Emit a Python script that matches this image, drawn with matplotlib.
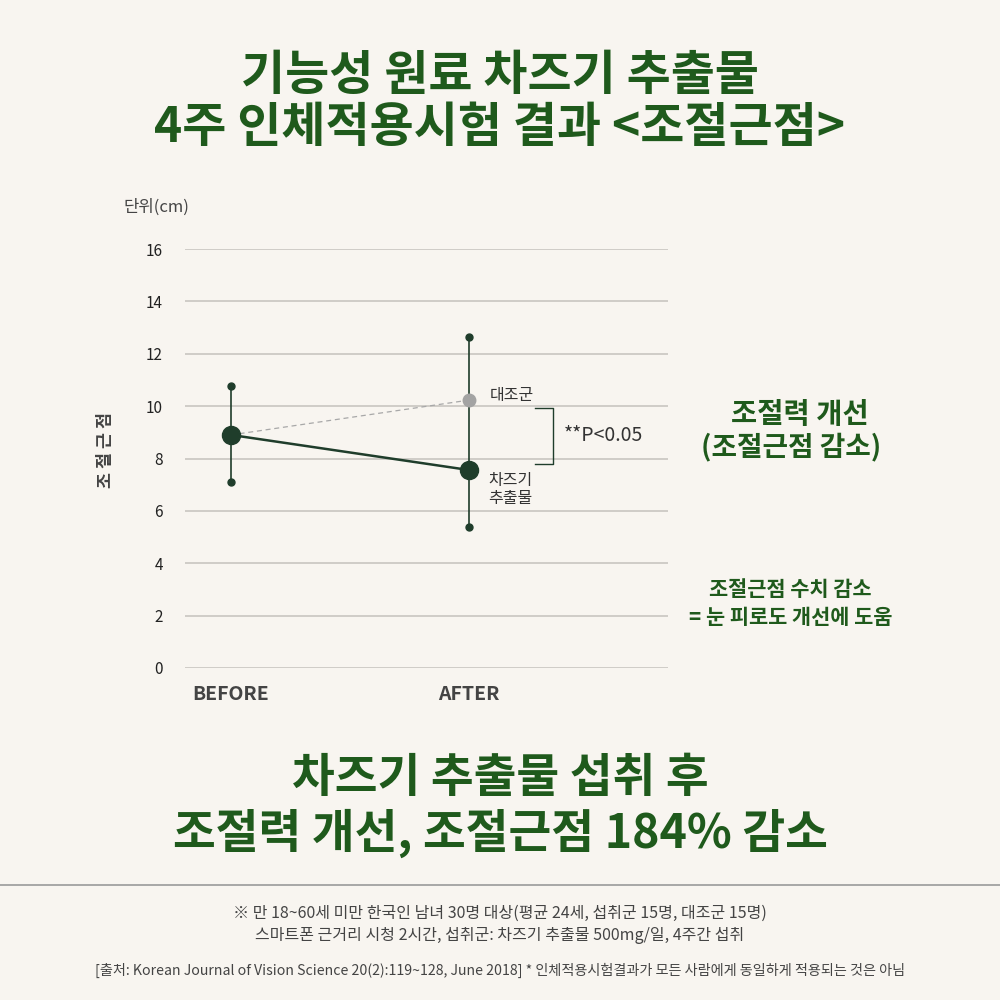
import matplotlib.pyplot as plt
import numpy as np

plt.rcParams['font.family'] = ['Noto Sans CJK KR', 'DejaVu Sans']

# data
groups = ['BEFORE', 'AFTER']
treat_mean = [8.9, 7.56]
treat_err_hi = [10.77, 12.64]
treat_err_lo = [7.10, 5.38]
control_mean = [8.9, 10.23]
yticks = [0, 2, 4, 6, 8, 10, 12, 14, 16]

BG = '#f8f5f0'
DARK = '#1f3d2b'
GREEN = '#1f5a1c'
GRAY_PT = '#a3a3a3'

fig = plt.figure(figsize=(10, 10), dpi=100, facecolor=BG)
ax = fig.add_axes([0.185, 0.332, 0.483, 0.419])
ax.set_facecolor(BG)

x = np.arange(len(groups))

# error bars
for xi, lo, hi in zip(x, treat_err_lo, treat_err_hi):
    ax.plot([xi, xi], [lo, hi], color=DARK, lw=1.2, zorder=3)
    ax.plot([xi, xi], [lo, hi], 'o', color=DARK, ms=5, zorder=4)

# control
ax.plot(x, control_mean, color='#a8a8a8', lw=0.9, ls=(0, (4, 3)), zorder=2)
ax.plot(x[1], control_mean[1], 'o', color=GRAY_PT, ms=9, zorder=5)

# treatment
ax.plot(x, treat_mean, color=DARK, lw=1.8, zorder=4)
ax.plot(x, treat_mean, 'o', color=DARK, ms=13, zorder=6)

ax.set_xlim(-0.193, 1.836)
ax.set_ylim(0, 16)
ax.set_yticks(yticks)
ax.set_yticklabels([str(t) for t in yticks], fontsize=11, color='#222222')
ax.grid(axis='y', color='#c4c2bd', lw=1.1)
ax.set_axisbelow(True)
ax.tick_params(axis='y', length=0, pad=16)
ax.set_xticks(x)
ax.set_xticklabels(groups, fontsize=14, fontweight='bold', color='#444444')
ax.tick_params(axis='x', length=0, pad=12)
for s in ax.spines.values():
    s.set_visible(False)

ax.set_ylabel('조 절 근 점', fontsize=12.5, fontweight='bold', color='#444444')
ax.yaxis.set_label_coords(-0.145, 0.52)
ax.text(-0.45, 17.6, '단위(cm)', fontsize=12, color='#444444', ha='left', va='center')

# series labels
ax.text(1.085, 10.4, '대조군', fontsize=11.5, color='#333333', ha='left', va='center')
ax.text(1.08, 7.5, '차즈기\n추출물', fontsize=11.5, color='#333333', ha='left', va='top',
        linespacing=1.1)

# significance bracket
bx0, bx1, by0, by1 = 1.277, 1.353, 7.79, 9.93
ax.plot([bx0, bx1, bx1, bx0], [by1, by1, by0, by0], color=DARK, lw=1.0, clip_on=False)
ax.text(1.40, 8.86, '**P<0.05', fontsize=14, color='#333333', ha='left', va='center')

# titles
fig.text(0.5, 0.925, '기능성 원료 차즈기 추출물', fontsize=34.5, fontweight='black',
         color=GREEN, ha='center', va='center')
fig.text(0.5, 0.872, '4주 인체적용시험 결과 <조절근점>', fontsize=34.5, fontweight='black',
         color=GREEN, ha='center', va='center')

fig.text(0.8, 0.585, '조절력 개선', fontsize=20.5, fontweight='black', color=GREEN,
         ha='center', va='center')
fig.text(0.791, 0.553, '(조절근점 감소)', fontsize=20, fontweight='black', color=GREEN,
         ha='center', va='center')
fig.text(0.79, 0.41, '조절근점 수치 감소', fontsize=15, fontweight='black', color=GREEN,
         ha='center', va='center')
fig.text(0.791, 0.383, '= 눈 피로도 개선에 도움', fontsize=15, fontweight='black', color=GREEN,
         ha='center', va='center')

fig.text(0.5, 0.222, '차즈기 추출물 섭취 후', fontsize=33.5, fontweight='black',
         color=GREEN, ha='center', va='center')
fig.text(0.5, 0.167, '조절력 개선, 조절근점 184% 감소', fontsize=33.5, fontweight='black',
         color=GREEN, ha='center', va='center')

# separator
fig.add_artist(plt.Line2D([0, 1], [0.115, 0.115], color='#9a9a9a', lw=1.2))

fig.text(0.5, 0.087, '※ 만 18~60세 미만 한국인 남녀 30명 대상(평균 24세, 섭취군 15명, 대조군 15명)',
         fontsize=11.5, color='#444444', ha='center', va='center')
fig.text(0.5, 0.064, '스마트폰 근거리 시청 2시간, 섭취군: 차즈기 추출물 500mg/일, 4주간 섭취',
         fontsize=11.5, color='#444444', ha='center', va='center')
fig.text(0.5, 0.03, '[출처: Korean Journal of Vision Science 20(2):119~128, June 2018] * 인체적용시험결과가 모든 사람에게 동일하게 적용되는 것은 아님',
         fontsize=10.2, color='#444444', ha='center', va='center')

fig.savefig('out.png', dpi=100, facecolor=BG)
